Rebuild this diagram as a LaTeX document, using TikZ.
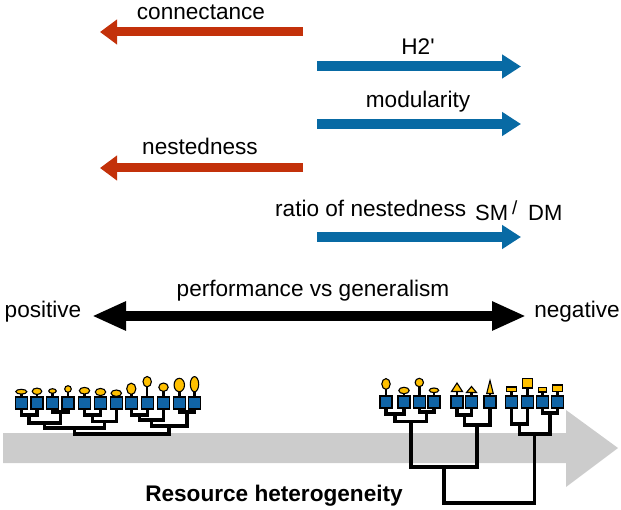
\documentclass[tikz,border=0pt]{standalone}
\usepackage{fontspec}
\setmainfont{Liberation Sans}
\usetikzlibrary{arrows.meta}
\definecolor{redarrow}{RGB}{195,49,10}
\definecolor{bluearrow}{RGB}{8,106,164}
\definecolor{boxblue}{RGB}{16,100,166}
\definecolor{leafyellow}{RGB}{255,192,0}
\definecolor{greybar}{RGB}{204,204,204}
\tikzset{
  lbl/.style={anchor=base,inner sep=0pt,font=\fontsize{22.6}{27}\selectfont},
  redarr/.style={draw=redarrow,line width=9pt,-{Triangle[length=17pt,width=24pt]}},
  bluearr/.style={draw=bluearrow,line width=10pt,-{Triangle[length=19pt,width=23pt]}},
  blkarr/.style={draw=black,line width=10pt,{Triangle[length=34pt,width=27pt]}-{Triangle[length=34pt,width=27pt]}},
  leafbox/.style={draw=black,fill=boxblue,line width=1.3pt,minimum size=12pt,inner sep=0pt,outer sep=0pt},
  tree/.style={draw=black,line width=3.4pt,line join=miter},
  glyph/.style={draw=black,fill=leafyellow,line width=1.1pt},
  stem/.style={draw=black,line width=2.4pt},
}
\begin{document}
\begin{tikzpicture}[x=1pt,y=-1pt]
\useasboundingbox (0,0) rectangle (621,510);
% top arrows
\coordinate (c1) at (303,32); \coordinate (c2) at (100,32);
\draw[redarr] (c1) -- (c2);
\node[lbl] (tconn) at (201,20) {connectance};
\coordinate (h1) at (317,66.5); \coordinate (h2) at (521,66.5);
\draw[bluearr] (h1) -- (h2);
\node[lbl] (th2) at (418,55) {H2\textquotesingle};
\coordinate (m1) at (317,124); \coordinate (m2) at (521,124);
\draw[bluearr] (m1) -- (m2);
\node[lbl] (tmod) at (418,108) {modularity};
\coordinate (n1) at (303,168); \coordinate (n2) at (100,168);
\draw[redarr] (n1) -- (n2);
\node[lbl] (tnest) at (200,155) {nestedness};
\coordinate (r1) at (317,237); \coordinate (r2) at (521,237);
\draw[bluearr] (r1) -- (r2);
\node[lbl,anchor=base west] (tratio) at (275,216.7) {ratio of nestedness};
\node[lbl,anchor=base west,font=\fontsize{22}{26}\selectfont] (tsm) at (475,221) {SM};
\node[lbl,anchor=base west,font=\fontsize{19}{22}\selectfont] (tsl) at (512,215) {/};
\node[lbl,anchor=base west,font=\fontsize{22}{26}\selectfont] (tdm) at (528,221) {DM};
% performance arrow
\coordinate (b1) at (92,316); \coordinate (b2) at (526,316);
\draw[blkarr] (b1) -- (b2);
\node[lbl] (tperf) at (313,297) {performance vs generalism};
\node[lbl] (tpos) at (43,318) {positive};
\node[lbl] (tneg) at (577,318) {negative};
% grey arrow
\fill[greybar] (3,433) -- (566,433) -- (566,410) -- (618,448) -- (566,487) -- (566,463) -- (3,463) -- cycle;
\node[lbl,font=\bfseries\fontsize{22.6}{27}\selectfont] (tres) at (274,501) {Resource heterogeneity};
% left tree leaves
\foreach \i/\x in {1/21.3,2/37,3/52.5,4/68,5/84.5,6/100.5,7/116.3,8/131.3,9/147.2,10/163.5,11/179.3,12/194.5}{
  \coordinate (L\i) at (\x,409);
}
\coordinate (l12) at (29.15,415);
\coordinate (l34) at (60.25,412);
\coordinate (l1234) at (44.7,423);
\coordinate (l56) at (92.5,415);
\coordinate (l567) at (104.4,421.7);
\coordinate (lA) at (74.55,428);
\coordinate (l89) at (139.25,415);
\coordinate (l8910) at (151.4,420);
\coordinate (l1112) at (186.9,412);
\coordinate (lB) at (169.1,426);
\coordinate (lroot) at (121.8,434);
\draw[tree] (L1) |- (l12) -| (L2);
\draw[tree] (L3) |- (l34) -| (L4);
\draw[tree] (l12) |- (l1234) -| (l34);
\draw[tree] (L5) |- (l56) -| (L6);
\draw[tree] (l56) |- (l567) -| (L7);
\draw[tree] (l1234) |- (lA) -| (l567);
\draw[tree] (L8) |- (l89) -| (L9);
\draw[tree] (l89) |- (l8910) -| (L10);
\draw[tree] (L11) |- (l1112) -| (L12);
\draw[tree] (l8910) |- (lB) -| (l1112);
\draw[tree] (lA) |- (lroot) -| (lB);
% right tree leaves
\foreach \i/\x in {1/386,2/404,3/419.3,4/434,5/457,6/471.5,7/490,8/511.5,9/527.5,10/542.5,11/557.5}{
  \coordinate (R\i) at (\x,408);
}
\coordinate (r12) at (395,414);
\coordinate (r34) at (426.65,412);
\coordinate (rA) at (410.8,421.7);
\coordinate (r56) at (464.25,415);
\coordinate (rB) at (477.1,425);
\coordinate (rAB) at (444,467);
\coordinate (r89) at (519.5,424);
\coordinate (r1011) at (550,413);
\coordinate (rC) at (534.75,434);
\coordinate (rroot) at (489,503);
\draw[tree] (R1) |- (r12) -| (R2);
\draw[tree] (R3) |- (r34) -| (R4);
\draw[tree] (r12) |- (rA) -| (r34);
\draw[tree] (R5) |- (r56) -| (R6);
\draw[tree] (r56) |- (rB) -| (R7);
\draw[tree] (rA) |- (rAB) -| (rB);
\draw[tree] (R8) |- (r89) -| (R9);
\draw[tree] (R10) |- (r1011) -| (R11);
\draw[tree] (r89) |- (rC) -| (r1011);
\draw[tree] (rAB) |- (rroot) -| (rC);
% left stems and glyphs
\foreach \x/\cy/\rx/\ry in {21.3/391.7/5.5/2.4, 37/391.3/4.8/3.2, 52.5/391/3.8/2.3, 68/389/3.3/3.3, 84.5/390.7/5.2/3.3, 100.5/392/5.2/3.6, 116.3/393.2/5.2/3.2, 131.3/388.8/4.6/5.6, 147.2/381.7/4.2/5.2, 163.5/387.2/4.7/4.2, 179.3/385/5.2/6.7, 194.5/384.2/4.2/7.6}{
  \draw[stem] (\x,\cy) -- (\x,398);
  \draw[glyph] (\x,\cy) ellipse [x radius=\rx pt, y radius=\ry pt];
}
\foreach \i/\x in {1/21.3,2/37,3/52.5,4/68,5/84.5,6/100.5,7/116.3,8/131.3,9/147.2,10/163.5,11/179.3,12/194.5}{
  \node[leafbox] (LB\i) at (\x,403) {};
}
% right stems and glyphs
\foreach \x/\cy/\rx/\ry in {386/384/4.2/5.4, 404/390.5/5.2/3.2, 419.3/382.5/4.2/4.2, 434/390.3/4.7/2.3}{
  \draw[stem] (\x,\cy) -- (\x,397);
  \draw[glyph] (\x,\cy) ellipse [x radius=\rx pt, y radius=\ry pt];
}
\foreach \x/\hw/\yb/\yt in {457/5.5/391.5/383, 471.5/5/392.5/386.5, 490/3.3/393.5/380.5}{
  \draw[stem] (\x,\yb) -- (\x,397);
  \draw[glyph,line join=miter] (\x-\hw,\yb) -- (\x+\hw,\yb) -- (\x,\yt) -- cycle;
}
\foreach \x/\hw/\yt/\yb in {511.5/5.3/387/391.3, 527.5/5.3/378.3/388, 542.5/3.8/387.7/392, 557.5/4.8/385/391.3}{
  \draw[stem] (\x,\yb) -- (\x,397);
  \draw[glyph] (\x-\hw,\yt) rectangle (\x+\hw,\yb);
}
\foreach \i/\x in {1/386,2/404,3/419.3,4/434,5/457,6/471.5,7/490,8/511.5,9/527.5,10/542.5,11/557.5}{
  \node[leafbox] (RB\i) at (\x,402) {};
}
\end{tikzpicture}
\end{document}
